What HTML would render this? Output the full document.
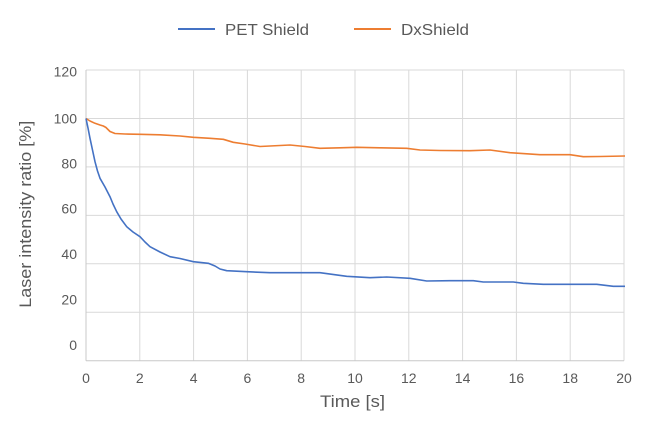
<!DOCTYPE html>
<html><head><meta charset="utf-8"><style>
html,body{margin:0;padding:0;background:#fff;}
svg{display:block;}
text{font-family:"Liberation Sans",sans-serif;fill:#595959;}
</style></head><body>
<svg width="645" height="435" viewBox="0 0 645 435" xmlns="http://www.w3.org/2000/svg">
<rect width="645" height="435" fill="#fff"/>
<g stroke="#d9d9d9" stroke-width="1" fill="none">
<line x1="86" y1="70" x2="624" y2="70"/>
<line x1="86" y1="118.45" x2="624" y2="118.45"/>
<line x1="86" y1="166.9" x2="624" y2="166.9"/>
<line x1="86" y1="215.35" x2="624" y2="215.35"/>
<line x1="86" y1="263.8" x2="624" y2="263.8"/>
<line x1="86" y1="312.25" x2="624" y2="312.25"/>
<line x1="139.8" y1="70" x2="139.8" y2="360.7"/>
<line x1="193.6" y1="70" x2="193.6" y2="360.7"/>
<line x1="247.4" y1="70" x2="247.4" y2="360.7"/>
<line x1="301.2" y1="70" x2="301.2" y2="360.7"/>
<line x1="355" y1="70" x2="355" y2="360.7"/>
<line x1="408.8" y1="70" x2="408.8" y2="360.7"/>
<line x1="462.6" y1="70" x2="462.6" y2="360.7"/>
<line x1="516.4" y1="70" x2="516.4" y2="360.7"/>
<line x1="570.2" y1="70" x2="570.2" y2="360.7"/>
<line x1="624" y1="70" x2="624" y2="360.7"/>
</g>
<g stroke="#c8c8c8" stroke-width="1">
<line x1="86" y1="70" x2="86" y2="360.7"/>
<line x1="86" y1="360.7" x2="624" y2="360.7"/>
</g>
<g font-size="14" text-anchor="end">
<text x="77" y="76.5">120</text>
<text x="77" y="123.5">100</text>
<text x="77" y="168.3">80</text>
<text x="77" y="213.3">60</text>
<text x="77" y="259">40</text>
<text x="77" y="304.3">20</text>
<text x="77" y="350">0</text>
</g>
<g font-size="14" text-anchor="middle">
<text x="86" y="383">0</text>
<text x="139.8" y="383">2</text>
<text x="193.6" y="383">4</text>
<text x="247.4" y="383">6</text>
<text x="301.2" y="383">8</text>
<text x="355" y="383">10</text>
<text x="408.8" y="383">12</text>
<text x="462.6" y="383">14</text>
<text x="516.4" y="383">16</text>
<text x="570.2" y="383">18</text>
<text x="624" y="383">20</text>
</g>
<text x="352.5" y="407" font-size="17" text-anchor="middle" textLength="65" lengthAdjust="spacingAndGlyphs">Time [s]</text>
<text transform="translate(31,214.3) rotate(-90)" font-size="17" text-anchor="middle" textLength="187" lengthAdjust="spacingAndGlyphs">Laser intensity ratio [%]</text>
<line x1="178" y1="29" x2="215" y2="29" stroke="#4472C4" stroke-width="2"/>
<text x="225" y="35" font-size="16" textLength="84" lengthAdjust="spacingAndGlyphs">PET Shield</text>
<line x1="354" y1="29" x2="391" y2="29" stroke="#ED7D31" stroke-width="2"/>
<text x="401" y="35" font-size="16" textLength="68" lengthAdjust="spacingAndGlyphs">DxShield</text>
<polyline fill="none" stroke="#ED7D31" stroke-width="1.6" stroke-linejoin="round" points="86,118.5 90,121 95,123.3 100,125 103.3,126 106,127.5 110,131.5 115,133.5 125,134 140,134.3 160,134.8 180,136 193.3,137.3 210,138.3 223.3,139.3 233.3,142.3 245,144 260,146.5 270,146 290,145 305,146.5 320,148.3 340,147.8 356.7,147.3 380,147.8 406.7,148.3 420,150 440,150.5 470,150.7 490,150 510,152.7 540,154.7 570,154.7 583.3,156.7 600,156.5 625,156"/>
<polyline fill="none" stroke="#4472C4" stroke-width="1.6" stroke-linejoin="round" points="86,118.5 88,128 90,138.3 92.5,150 95,161.7 97.5,171 100,178.3 105,187 110,196.7 113,204 116.7,211.7 121,219 126.7,226.7 133,232 140,236.7 145,242 150,246.7 160,252 170,256.7 180,258.5 193.3,261.7 208.3,263.3 215,266 220,269 226.7,270.7 246.7,271.7 270,272.7 320,272.7 346.7,276.3 370,277.7 386.7,277 410,278.3 426.7,281 450,280.7 473.3,280.7 483.3,282 513.3,282 523.3,283.3 543.3,284.3 596.7,284.3 613.3,286.3 625,286.3"/>
</svg>
</body></html>
